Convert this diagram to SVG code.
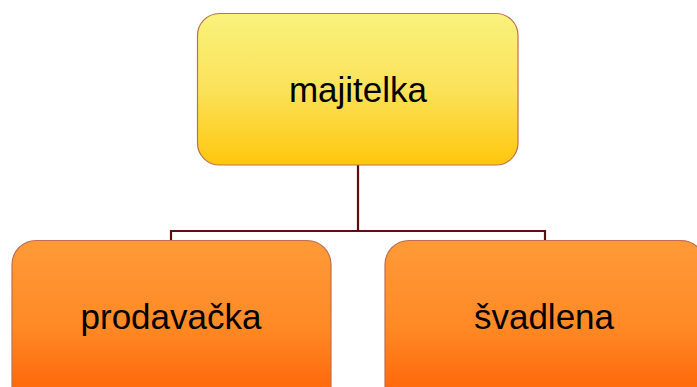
<svg xmlns="http://www.w3.org/2000/svg" width="697" height="387" viewBox="0 0 697 387">
  <defs>
    <linearGradient id="gradTop" x1="0" y1="0" x2="0" y2="1">
      <stop offset="0" stop-color="#f9f27c"/>
      <stop offset="0.5" stop-color="#fbe25a"/>
      <stop offset="1" stop-color="#ffc70c"/>
    </linearGradient>
    <linearGradient id="gradSub" x1="0" y1="0" x2="0" y2="1">
      <stop offset="0" stop-color="#ff9a38"/>
      <stop offset="0.5" stop-color="#ff8a26"/>
      <stop offset="0.85" stop-color="#ff6a0c"/>
      <stop offset="1" stop-color="#ff6406"/>
    </linearGradient>
    <style>
      .box { stroke: #c07050; stroke-width: 1.2; }
      .top { fill: url(#gradTop); }
      .sub { fill: url(#gradSub); }
      .label { font-family: "Liberation Sans", Arial, sans-serif; font-size: 35px; fill: #000; text-anchor: middle; }
      .link { fill: none; stroke: #5c0f0f; stroke-width: 2.2; }
    </style>
  </defs>

  <rect width="697" height="387" fill="#ffffff"/>

  <g id="connectors">
    <path class="link" d="M358 165 V231"/>
    <path class="link" d="M171 241 V231 H545 V241"/>
  </g>

  <g id="node-majitelka">
    <rect class="box top" x="197.5" y="13.5" width="320.5" height="151.5" rx="22" ry="22"/>
    <text class="label" x="358" y="102">majitelka</text>
  </g>

  <g id="node-prodavacka">
    <rect class="box sub" x="12" y="240.5" width="319" height="170" rx="24" ry="24"/>
    <text class="label" x="171" y="329">prodavačka</text>
  </g>

  <g id="node-svadlena">
    <rect class="box sub" x="385" y="240.5" width="320" height="170" rx="24" ry="24"/>
    <text class="label" x="544" y="329">švadlena</text>
  </g>
</svg>
